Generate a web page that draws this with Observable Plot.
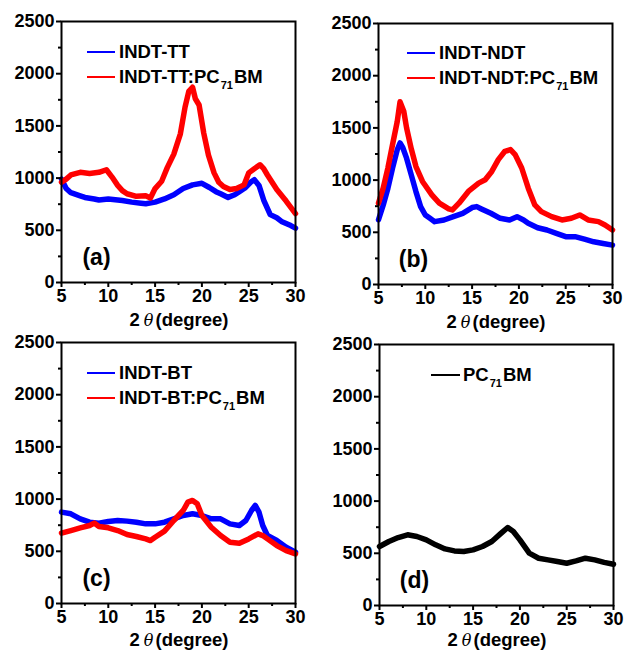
<!DOCTYPE html>
<html>
<head>
<meta charset="utf-8">
<script src="https://cdn.jsdelivr.net/npm/d3@7"></script>
<script src="https://cdn.jsdelivr.net/npm/@observablehq/plot@0.6"></script>
<style>
  body { margin: 0; background: #fff; }
  #root { position: relative; width: 625px; height: 651px; background: #fff; overflow: hidden;
          font-family: "Liberation Sans", Arial, sans-serif; font-weight: bold; color: #000; }
  .panel { position: absolute; }
  .leg { position: absolute; font-size: 18.5px; line-height: 20px; white-space: nowrap; }
  .leg sub { font-size: 11px; vertical-align: -6px; line-height: 0; margin: 0 1px; }
  .sw { position: absolute; height: 2px; }
  .xl { position: absolute; font-size: 18.5px; line-height: 20px; white-space: nowrap; transform: translateX(-50%); }
  .xl i { font-family: "DejaVu Serif", serif; font-weight: normal; margin: 0 2px 0 4px; font-size: 16px; }
</style>
</head>
<body>
<div id="root"></div>
<script>
// ---------- data ----------
const xTicks = [5, 10, 15, 20, 25, 30];
const xMinor = [7.5, 12.5, 17.5, 22.5, 27.5];
const yTicks = [0, 500, 1000, 1500, 2000, 2500];
const yMinor = [250, 750, 1250, 1750, 2250];

// (a) INDT-TT
const aBlueX = [5, 5.5, 6, 7, 7.5, 8.5, 9, 10, 11, 11.5, 12.5, 13.5, 14, 15, 16, 17, 18, 19, 20, 20.8, 21.5, 22, 22.8, 23.5, 24, 24.6, 25.2, 25.6, 26.1, 26.6, 27.3, 28, 28.5, 29.5, 30];
const aBlueY = [990, 900, 860, 830, 815, 800, 790, 800, 790, 785, 770, 760, 755, 770, 800, 840, 900, 935, 950, 910, 870, 850, 815, 840, 870, 905, 960, 985, 930, 790, 650, 620, 585, 545, 520];
const aRedX = [5, 5.5, 6, 7, 8, 9, 9.8, 10.4, 11, 11.5, 12, 13, 14, 14.5, 15, 15.7, 16.3, 17, 17.7, 18.2, 18.6, 19, 19.3, 19.7, 20.2, 20.7, 21.3, 21.8, 22.3, 23, 23.7, 24.5, 25, 25.6, 26.2, 26.6, 27, 28, 29, 30];
const aRedY = [960, 990, 1030, 1055, 1045, 1055, 1080, 1010, 930, 880, 850, 825, 830, 810, 900, 970, 1100, 1230, 1424, 1680, 1830, 1870, 1760, 1700, 1430, 1220, 1050, 960, 920, 890, 900, 935, 1050, 1090, 1128, 1090, 1030, 890, 780, 660];

// (b) INDT-NDT
const bBlueX = [5, 5.5, 6, 6.5, 7, 7.3, 7.6, 8, 8.5, 9, 9.5, 10, 10.5, 11, 12, 13, 14, 15, 15.5, 16, 17, 18, 19, 19.8, 20.5, 21, 22, 23, 24, 25, 26, 27, 28, 29, 30];
const bBlueY = [620, 760, 920, 1115, 1290, 1356, 1310, 1210, 1050, 890, 746, 666, 634, 602, 618, 650, 682, 737, 746, 724, 682, 634, 618, 650, 618, 586, 544, 522, 490, 458, 458, 435, 409, 393, 377];
const bRedX = [5, 5.5, 6, 6.5, 7, 7.3, 7.7, 8, 8.5, 9, 9.7, 10.7, 11.5, 12.5, 12.9, 13.6, 14.6, 15.7, 16.4, 17.1, 17.8, 18.5, 19.1, 19.6, 20.3, 21, 21.7, 22.4, 23.5, 24.6, 25.6, 26.5, 27.4, 28.5, 29.2, 30];
const bRedY = [780, 923, 1115, 1340, 1560, 1750, 1660, 1500, 1300, 1130, 987, 859, 779, 724, 714, 779, 891, 971, 1003, 1083, 1196, 1276, 1292, 1244, 1116, 923, 762, 698, 650, 618, 634, 666, 618, 602, 570, 522];

// (c) INDT-BT
const cBlueX = [5, 6, 7, 8, 9, 10, 11, 12, 13, 14, 15, 16, 17, 18, 19, 20, 21, 22, 23, 24, 24.7, 25.3, 25.7, 26.1, 26.5, 27, 28, 29, 30];
const cBlueY = [875, 859, 811, 779, 770, 786, 795, 789, 779, 763, 763, 779, 811, 843, 859, 843, 811, 811, 763, 747, 795, 891, 939, 875, 747, 651, 603, 539, 491];
const cRedX = [5, 6, 7, 8, 8.5, 9, 10, 11, 12, 13, 14, 14.5, 15, 16, 17, 18, 18.5, 19, 19.5, 20, 21, 22, 23, 24, 25, 26, 26.5, 27, 28, 29, 30];
const cRedY = [674, 699, 725, 747, 770, 738, 725, 699, 661, 642, 619, 603, 635, 693, 795, 891, 971, 987, 955, 843, 731, 651, 587, 578, 619, 667, 651, 619, 555, 507, 475];

// (d) PC71BM
const dX = [5, 6, 7, 8, 9, 10, 11, 12, 13, 14, 15, 16, 17, 18, 18.7, 19.3, 20, 21, 22, 23, 24, 25, 26, 27, 28, 29, 30];
const dY = [565, 613, 651, 677, 661, 629, 581, 542, 523, 517, 533, 565, 613, 693, 747, 709, 629, 501, 453, 437, 421, 405, 427, 453, 437, 413, 395];

const panelLabels = ["(a)", "(b)", "(c)", "(d)"];
const legendNames = [["INDT-TT", "INDT-TT:PC", "71", "BM"], ["INDT-NDT", "INDT-NDT:PC", "71", "BM"], ["INDT-BT", "INDT-BT:PC", "71", "BM"], ["PC", "71", "BM"]];
const blue = "#0000ff", red = "#ff0000", black = "#000000";

// ---------- layout ----------
const W = 312, H = 326, ML = 61, MR = 17, MT = 21, MB = 44;
const panels = [
  {left: 0,   top: 0,   series: [[aBlueX, aBlueY, blue], [aRedX, aRedY, red]]},
  {left: 317, top: 2,   series: [[bBlueX, bBlueY, blue], [bRedX, bRedY, red]]},
  {left: 0,   top: 321, series: [[cBlueX, cBlueY, blue], [cRedX, cRedY, red]]},
  {left: 318, top: 323, series: [[dX, dY, black]]}
];

const root = document.getElementById("root");

panels.forEach((p, i) => {
  const marks = [];
  p.series.forEach(([xs, ys, c]) => {
    const data = xs.map((x, k) => ({x, y: ys[k]}));
    marks.push(Plot.line(data, {x: "x", y: "y", stroke: c, strokeWidth: 5.5, strokeLinejoin: "round"}));
  });
  marks.push(Plot.frame({stroke: "#000", strokeWidth: 2}));
  marks.push(Plot.axisX({ticks: xTicks, tickSize: 5, tickPadding: 2, tickFormat: d3.format("d"), label: null, strokeWidth: 2}));
  marks.push(Plot.axisX({ticks: xMinor, tickSize: 3, tickFormat: () => "", label: null, strokeWidth: 2}));
  marks.push(Plot.axisY({ticks: yTicks, tickSize: 5, tickPadding: 2, tickFormat: d3.format("d"), label: null, strokeWidth: 2}));
  marks.push(Plot.axisY({ticks: yMinor, tickSize: 3, tickFormat: () => "", label: null, strokeWidth: 2}));
  marks.push(Plot.text([panelLabels[i]], {text: d => d, frameAnchor: "bottom-left", dx: 35, dy: -25,
    textAnchor: "middle", lineAnchor: "middle", fontSize: 23, fontWeight: "bold", fill: "#000"}));

  const svg = Plot.plot({
    width: W, height: H, marginLeft: ML, marginRight: MR, marginTop: MT, marginBottom: MB,
    x: {domain: [5, 30]},
    y: {domain: [0, 2500]},
    style: {fontFamily: "Liberation Sans, Arial, sans-serif", fontSize: "18px", fontWeight: "bold", color: "#000", background: "transparent", overflow: "visible"},
    marks
  });
  svg.classList.add("panel");
  svg.style.left = p.left + "px";
  svg.style.top = p.top + "px";
  root.appendChild(svg);

  // x-axis label
  const xl = document.createElement("div");
  xl.className = "xl";
  xl.innerHTML = "2<i>θ</i>(degree)";
  xl.style.left = (p.left + ML + (W - ML - MR) / 2 + 1) + "px";
  xl.style.top = Math.min(p.top + H - MB + 28, 630) + "px";
  root.appendChild(xl);
});

// legends
function swatch(x, y, w, c) {
  const s = document.createElement("div");
  s.className = "sw";
  s.style.left = x + "px"; s.style.top = (y - 1) + "px"; s.style.width = w + "px"; s.style.background = c;
  root.appendChild(s);
}
function legText(x, y, html) {
  const t = document.createElement("div");
  t.className = "leg";
  t.style.left = x + "px"; t.style.top = (y - 10) + "px";
  t.innerHTML = html;
  root.appendChild(t);
}
const legPos = [[87, 52, 77], [407, 53, 78], [87, 373, 398]];
legPos.forEach(([x, y1, y2], i) => {
  const n = legendNames[i];
  swatch(x, y1, 28, blue);
  legText(x + 32, y1, n[0]);
  swatch(x, y2, 28, red);
  legText(x + 32, y2, n[1] + "<sub>" + n[2] + "</sub>" + n[3]);
});
swatch(431, 375, 29, black);
legText(463, 375, legendNames[3][0] + "<sub>" + legendNames[3][1] + "</sub>" + legendNames[3][2]);
</script>
</body>
</html>
